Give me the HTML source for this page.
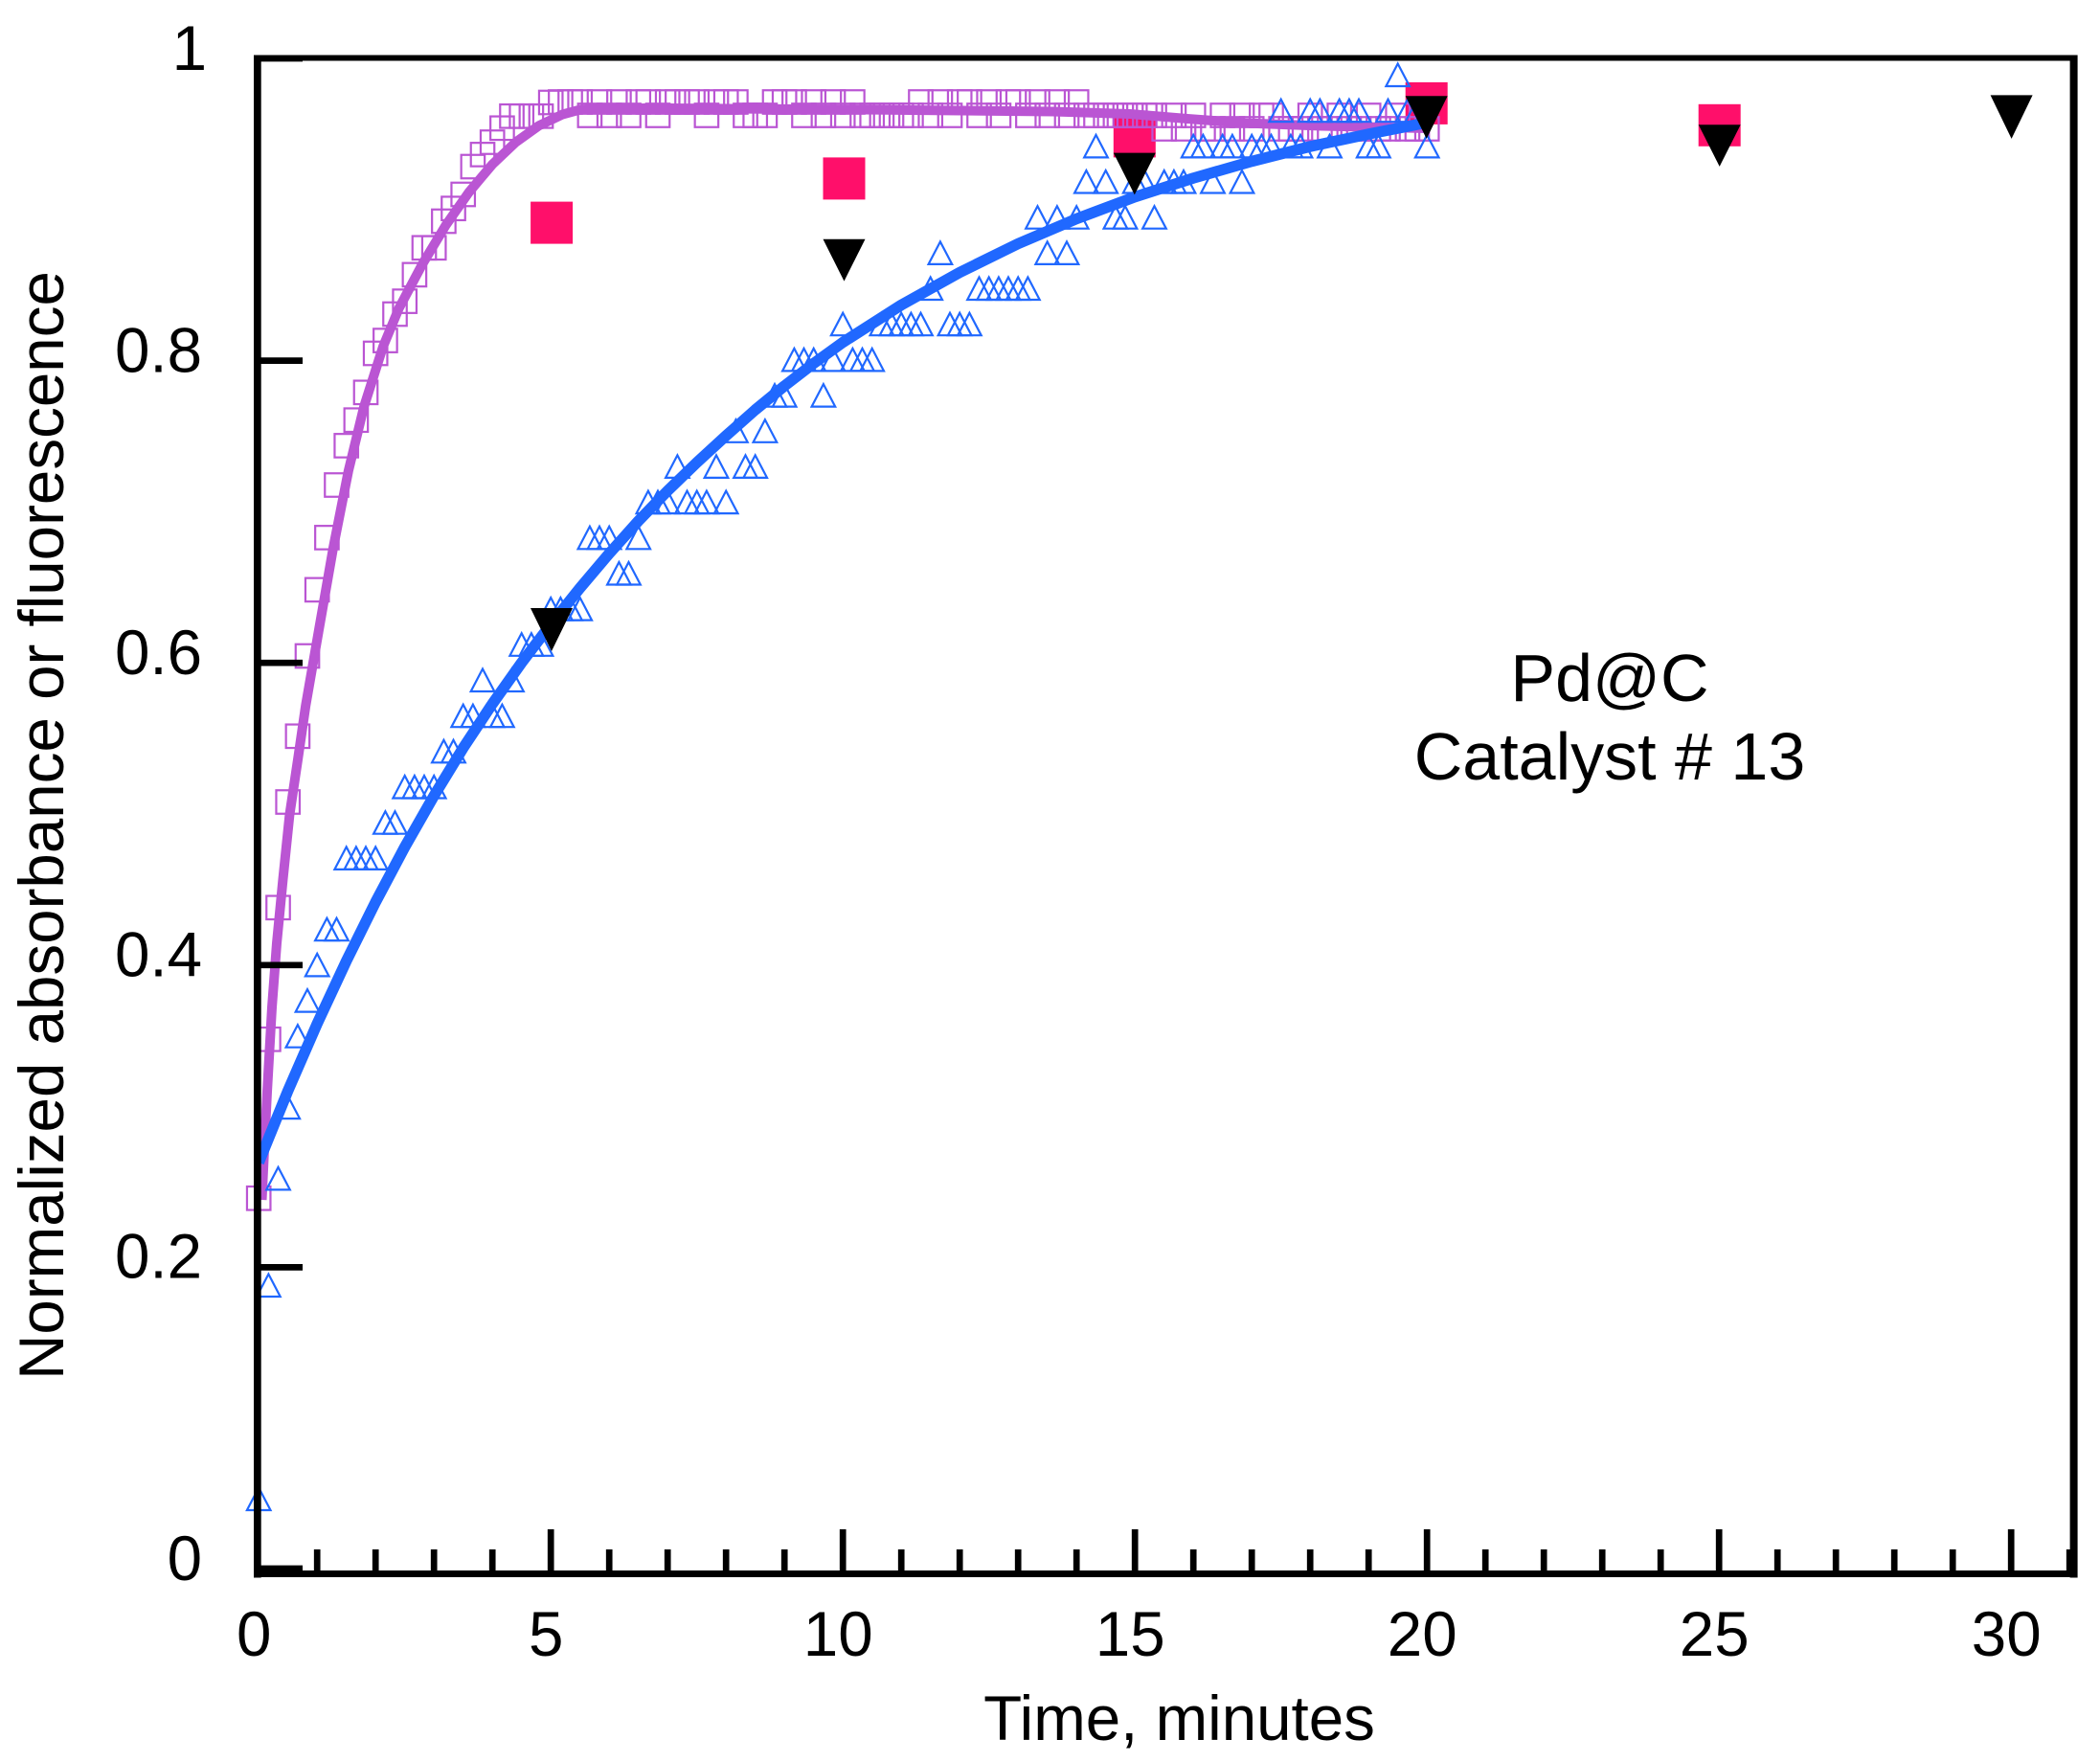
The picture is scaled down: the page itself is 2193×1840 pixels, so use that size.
<!DOCTYPE html>
<html><head><meta charset="utf-8"><style>
html,body{margin:0;padding:0;background:#fff;}
svg{display:block;}
text{font-family:"Liberation Sans",Arial,sans-serif;fill:#000;}
</style></head><body>
<svg width="2193" height="1840" viewBox="0 0 2193 1840" xmlns="http://www.w3.org/2000/svg">
<defs>
<rect id="s" x="-12.25" y="-12.25" width="24.5" height="24.5"/>
<polygon id="t" points="0,-11.5 12.3,12 -12.3,12"/>
</defs>
<rect width="2193" height="1840" fill="#fff"/>

<!-- pink filled squares -->
<g fill="#FF0F6A">
<rect x="554.1" y="210.6" width="44" height="44"/>
<rect x="859.5" y="164.4" width="44" height="44"/>
<rect x="1162.8" y="120.4" width="44" height="44"/>
<rect x="1467.7" y="85.9" width="44" height="44"/>
<rect x="1773.7" y="108.8" width="44" height="44"/>
</g>

<!-- lavender open squares -->
<g fill="none" stroke="#BA55D3" stroke-width="2.2">
<use href="#s" x="270.2" y="1251.3"/><use href="#s" x="280.4" y="1085.3"/><use href="#s" x="290.5" y="947.8"/><use href="#s" x="300.7" y="837.5"/><use href="#s" x="310.9" y="768.8"/><use href="#s" x="321.0" y="685"/><use href="#s" x="331.2" y="615.9"/><use href="#s" x="341.4" y="561.4"/><use href="#s" x="351.5" y="506.5"/><use href="#s" x="361.7" y="465.4"/><use href="#s" x="371.9" y="438.7"/><use href="#s" x="382.0" y="409.8"/><use href="#s" x="392.2" y="369"/><use href="#s" x="402.4" y="355.6"/><use href="#s" x="412.5" y="328"/><use href="#s" x="422.7" y="314.6"/><use href="#s" x="432.9" y="286.9"/><use href="#s" x="443.0" y="258.8"/><use href="#s" x="453.2" y="258.8"/><use href="#s" x="463.4" y="231"/><use href="#s" x="473.5" y="217.7"/><use href="#s" x="483.7" y="203"/><use href="#s" x="493.9" y="174"/><use href="#s" x="504.0" y="161.4"/><use href="#s" x="514.2" y="148.5"/><use href="#s" x="524.4" y="133.8"/><use href="#s" x="534.5" y="121.3"/><use href="#s" x="544.7" y="121.3"/><use href="#s" x="554.9" y="121.3"/><use href="#s" x="565.0" y="121.3"/><use href="#s" x="575.2" y="107"/>
<use href="#s" x="585.4" y="106.5"/><use href="#s" x="595.5" y="106.5"/><use href="#s" x="605.7" y="106.5"/><use href="#s" x="615.9" y="120.5"/><use href="#s" x="626.0" y="106.5"/><use href="#s" x="636.2" y="120.5"/><use href="#s" x="646.4" y="106.5"/><use href="#s" x="656.5" y="120.5"/><use href="#s" x="666.7" y="106.5"/><use href="#s" x="676.9" y="106.5"/><use href="#s" x="687.0" y="120.5"/><use href="#s" x="697.2" y="106.5"/><use href="#s" x="707.4" y="106.5"/><use href="#s" x="717.5" y="106.5"/><use href="#s" x="727.7" y="106.5"/><use href="#s" x="737.9" y="120.5"/><use href="#s" x="748.0" y="106.5"/><use href="#s" x="758.2" y="106.5"/><use href="#s" x="768.4" y="106.5"/><use href="#s" x="778.5" y="120.5"/><use href="#s" x="788.7" y="120.5"/><use href="#s" x="798.9" y="120.5"/><use href="#s" x="809.0" y="106.5"/><use href="#s" x="819.2" y="106.5"/><use href="#s" x="829.4" y="106.5"/><use href="#s" x="839.5" y="120.5"/><use href="#s" x="849.7" y="106.5"/><use href="#s" x="859.9" y="120.5"/><use href="#s" x="870.0" y="106.5"/><use href="#s" x="880.2" y="120.5"/><use href="#s" x="890.4" y="106.5"/>
<use href="#s" x="900.5" y="120.5"/><use href="#s" x="910.7" y="120.5"/><use href="#s" x="920.9" y="120.5"/><use href="#s" x="931.0" y="120.5"/><use href="#s" x="941.2" y="120.5"/><use href="#s" x="951.4" y="120.5"/><use href="#s" x="961.5" y="106.5"/><use href="#s" x="971.7" y="120.5"/><use href="#s" x="981.9" y="106.5"/><use href="#s" x="992.0" y="120.5"/><use href="#s" x="1002.2" y="106.5"/><use href="#s" x="1012.4" y="106.5"/><use href="#s" x="1022.5" y="120.5"/><use href="#s" x="1032.7" y="106.5"/><use href="#s" x="1042.9" y="120.5"/><use href="#s" x="1053.0" y="106.5"/><use href="#s" x="1063.2" y="106.5"/><use href="#s" x="1073.4" y="120.5"/><use href="#s" x="1083.5" y="106.5"/><use href="#s" x="1093.7" y="120.5"/><use href="#s" x="1103.9" y="106.5"/><use href="#s" x="1114.0" y="120.5"/><use href="#s" x="1124.2" y="106.5"/>
<use href="#s" x="1134.4" y="120.5"/><use href="#s" x="1144.5" y="120.5"/><use href="#s" x="1154.7" y="120.5"/><use href="#s" x="1164.9" y="120.5"/><use href="#s" x="1175.0" y="120.5"/><use href="#s" x="1185.2" y="120.5"/><use href="#s" x="1195.4" y="120.5"/><use href="#s" x="1205.5" y="120.5"/><use href="#s" x="1215.7" y="134.5"/><use href="#s" x="1225.9" y="120.5"/><use href="#s" x="1236.0" y="134.5"/><use href="#s" x="1246.2" y="120.5"/><use href="#s" x="1256.4" y="134.5"/><use href="#s" x="1266.5" y="134.5"/><use href="#s" x="1276.7" y="120.5"/><use href="#s" x="1286.9" y="134.5"/><use href="#s" x="1297.0" y="120.5"/><use href="#s" x="1307.2" y="134.5"/><use href="#s" x="1317.4" y="120.5"/><use href="#s" x="1327.5" y="120.5"/><use href="#s" x="1337.7" y="134.5"/><use href="#s" x="1347.9" y="134.5"/><use href="#s" x="1358.0" y="134.5"/><use href="#s" x="1368.2" y="120.5"/><use href="#s" x="1378.4" y="134.5"/><use href="#s" x="1388.5" y="134.5"/><use href="#s" x="1398.7" y="120.5"/><use href="#s" x="1408.9" y="134.5"/><use href="#s" x="1419.0" y="134.5"/><use href="#s" x="1429.2" y="120.5"/><use href="#s" x="1439.4" y="134.5"/><use href="#s" x="1449.5" y="134.5"/><use href="#s" x="1459.7" y="120.5"/><use href="#s" x="1469.9" y="134.5"/><use href="#s" x="1480.0" y="134.5"/><use href="#s" x="1490.2" y="134.5"/>
</g>

<!-- lavender fit -->
<polyline fill="none" stroke="#BA55D3" stroke-width="10" stroke-linejoin="round" points="273.5,1253 276,1200 279,1140 284,1052 289,985 295.5,918 302.4,851 311.2,792 319.2,737 332.6,660 348,572 363.8,492 380,425 400,362 416.6,322 441,276 465.4,235.4 489.8,200.6 514.2,171.6 538.6,148.5 563,131.1 587.4,119.5 605.7,114.6 624,113 700,113 900,114.5 1100,116.5 1180,119 1240,124 1300,128.5 1380,131.5 1490,134"/>

<!-- blue open triangles -->
<g fill="none" stroke="#2068FF" stroke-width="2.2">
<use href="#t" x="270.2" y="1565"/><use href="#t" x="280.4" y="1342.0"/><use href="#t" x="290.5" y="1230.4"/><use href="#t" x="300.7" y="1156.1"/><use href="#t" x="310.9" y="1081.7"/><use href="#t" x="321.0" y="1044.6"/><use href="#t" x="331.2" y="1007.4"/><use href="#t" x="341.4" y="970.2"/><use href="#t" x="351.5" y="970.2"/><use href="#t" x="361.7" y="895.9"/><use href="#t" x="371.9" y="895.9"/><use href="#t" x="382.0" y="895.9"/><use href="#t" x="392.2" y="895.9"/><use href="#t" x="402.4" y="858.7"/><use href="#t" x="412.5" y="858.7"/><use href="#t" x="422.7" y="821.5"/><use href="#t" x="432.9" y="821.5"/><use href="#t" x="443.0" y="821.5"/><use href="#t" x="453.2" y="821.5"/><use href="#t" x="463.4" y="784.3"/><use href="#t" x="473.5" y="784.3"/><use href="#t" x="483.7" y="747.2"/><use href="#t" x="493.9" y="747.2"/><use href="#t" x="504.0" y="710.0"/><use href="#t" x="514.2" y="747.2"/><use href="#t" x="524.4" y="747.2"/><use href="#t" x="534.5" y="710.0"/><use href="#t" x="544.7" y="672.8"/><use href="#t" x="554.9" y="672.8"/><use href="#t" x="565.0" y="672.8"/><use href="#t" x="575.2" y="635.6"/><use href="#t" x="585.4" y="635.6"/><use href="#t" x="595.5" y="635.6"/><use href="#t" x="605.7" y="635.6"/>
<use href="#t" x="615.9" y="561.3"/><use href="#t" x="626.0" y="561.3"/><use href="#t" x="636.2" y="561.3"/><use href="#t" x="646.4" y="598.5"/><use href="#t" x="656.5" y="598.5"/><use href="#t" x="666.7" y="561.3"/><use href="#t" x="676.9" y="524.1"/><use href="#t" x="687.0" y="524.1"/><use href="#t" x="697.2" y="524.1"/><use href="#t" x="707.4" y="486.9"/><use href="#t" x="717.5" y="524.1"/><use href="#t" x="727.7" y="524.1"/><use href="#t" x="737.9" y="524.1"/><use href="#t" x="748.0" y="486.9"/><use href="#t" x="758.2" y="524.1"/><use href="#t" x="768.4" y="449.8"/><use href="#t" x="778.5" y="486.9"/><use href="#t" x="788.7" y="486.9"/><use href="#t" x="798.9" y="449.8"/><use href="#t" x="809.0" y="412.6"/><use href="#t" x="819.2" y="412.6"/><use href="#t" x="829.4" y="375.4"/><use href="#t" x="839.5" y="375.4"/><use href="#t" x="849.7" y="375.4"/><use href="#t" x="859.9" y="412.6"/><use href="#t" x="870.0" y="375.4"/><use href="#t" x="880.2" y="338.2"/><use href="#t" x="890.4" y="375.4"/><use href="#t" x="900.5" y="375.4"/><use href="#t" x="910.7" y="375.4"/>
<use href="#t" x="920.9" y="338.2"/><use href="#t" x="931.0" y="338.2"/><use href="#t" x="941.2" y="338.2"/><use href="#t" x="951.4" y="338.2"/><use href="#t" x="961.5" y="338.2"/><use href="#t" x="971.7" y="301.0"/><use href="#t" x="981.9" y="263.9"/><use href="#t" x="992.0" y="338.2"/><use href="#t" x="1002.2" y="338.2"/><use href="#t" x="1012.4" y="338.2"/><use href="#t" x="1022.5" y="301.0"/><use href="#t" x="1032.7" y="301.0"/><use href="#t" x="1042.9" y="301.0"/><use href="#t" x="1053.0" y="301.0"/><use href="#t" x="1063.2" y="301.0"/><use href="#t" x="1073.4" y="301.0"/><use href="#t" x="1083.5" y="226.7"/><use href="#t" x="1093.7" y="263.9"/><use href="#t" x="1103.9" y="226.7"/><use href="#t" x="1114.0" y="263.9"/><use href="#t" x="1124.2" y="226.7"/><use href="#t" x="1134.4" y="189.5"/><use href="#t" x="1144.5" y="152.4"/><use href="#t" x="1154.7" y="189.5"/><use href="#t" x="1164.9" y="226.7"/><use href="#t" x="1175.0" y="226.7"/><use href="#t" x="1185.2" y="189.5"/><use href="#t" x="1195.4" y="189.5"/><use href="#t" x="1205.5" y="226.7"/>
<use href="#t" x="1215.7" y="189.5"/><use href="#t" x="1225.9" y="189.5"/><use href="#t" x="1236.0" y="189.5"/><use href="#t" x="1246.2" y="152.4"/><use href="#t" x="1256.4" y="152.4"/><use href="#t" x="1266.5" y="189.5"/><use href="#t" x="1276.7" y="152.4"/><use href="#t" x="1286.9" y="152.4"/><use href="#t" x="1297.0" y="189.5"/><use href="#t" x="1307.2" y="152.4"/><use href="#t" x="1317.4" y="152.4"/><use href="#t" x="1327.5" y="152.4"/><use href="#t" x="1337.7" y="115.2"/><use href="#t" x="1347.9" y="152.4"/><use href="#t" x="1358.0" y="152.4"/><use href="#t" x="1368.2" y="115.2"/><use href="#t" x="1378.4" y="115.2"/><use href="#t" x="1388.5" y="152.4"/><use href="#t" x="1398.7" y="115.2"/><use href="#t" x="1408.9" y="115.2"/><use href="#t" x="1419.0" y="115.2"/><use href="#t" x="1429.2" y="152.4"/><use href="#t" x="1439.4" y="152.4"/><use href="#t" x="1449.5" y="115.2"/><use href="#t" x="1459.7" y="78.0"/><use href="#t" x="1469.9" y="115.2"/><use href="#t" x="1480.0" y="115.2"/><use href="#t" x="1490.2" y="152.4"/>
</g>

<!-- blue fit -->
<polyline fill="none" stroke="#2068FF" stroke-width="11.5" stroke-linejoin="round" points="270.2,1214 300.7,1139 331.2,1069 361.7,1003.5 392.2,942 422.7,884.5 453.2,831 483.7,781 514.2,735 544.7,692 575.2,652 605.7,614 636.2,578 666.7,544 697.2,512.5 727.7,483 758.2,455 788.7,428 819.2,403 849.7,379.5 880.2,357.5 941.2,318.5 1002.2,284.5 1063.2,254.5 1124.2,228.5 1185.2,205.6 1246.2,186 1307.2,168.5 1368.2,153 1429.2,140 1490.2,128"/>

<!-- black inverted triangles -->
<g fill="#000">
<polygon points="554,635 598,635 576,680"/>
<polygon points="859.5,249.8 903.5,249.8 881.5,293.6"/>
<polygon points="1162.8,159.6 1206.8,159.6 1184.8,203.4"/>
<polygon points="1467.7,100.3 1511.7,100.3 1489.7,144.9"/>
<polygon points="1773.7,130.2 1817.7,130.2 1795.7,173.9"/>
<polygon points="2078.6,99.4 2122.6,99.4 2100.6,144.9"/>
</g>

<!-- frame -->
<g fill="#000">
<rect x="265" y="57.5" width="7.7" height="1590"/>
<rect x="265" y="57.5" width="1904.5" height="6"/>
<rect x="2161.6" y="57.5" width="8" height="1590"/>
<rect x="265" y="1640" width="1904.5" height="7"/>
</g>

<!-- y ticks -->
<g stroke="#000" stroke-width="6.7">
<line x1="272" y1="61" x2="316" y2="61"/>
<line x1="272" y1="376.6" x2="316" y2="376.6"/>
<line x1="272" y1="692.2" x2="316" y2="692.2"/>
<line x1="272" y1="1007.8" x2="316" y2="1007.8"/>
<line x1="272" y1="1323.4" x2="316" y2="1323.4"/>
<line x1="272" y1="1638" x2="316" y2="1638"/>
</g>

<!-- x ticks -->
<g stroke="#000" stroke-width="6.7">
<line x1="331.2" y1="1618" x2="331.2" y2="1641"/>
<line x1="392.2" y1="1618" x2="392.2" y2="1641"/>
<line x1="453.2" y1="1618" x2="453.2" y2="1641"/>
<line x1="514.2" y1="1618" x2="514.2" y2="1641"/>
<line x1="575.2" y1="1597" x2="575.2" y2="1641"/>
<line x1="636.2" y1="1618" x2="636.2" y2="1641"/>
<line x1="697.2" y1="1618" x2="697.2" y2="1641"/>
<line x1="758.2" y1="1618" x2="758.2" y2="1641"/>
<line x1="819.2" y1="1618" x2="819.2" y2="1641"/>
<line x1="880.2" y1="1597" x2="880.2" y2="1641"/>
<line x1="941.2" y1="1618" x2="941.2" y2="1641"/>
<line x1="1002.2" y1="1618" x2="1002.2" y2="1641"/>
<line x1="1063.2" y1="1618" x2="1063.2" y2="1641"/>
<line x1="1124.2" y1="1618" x2="1124.2" y2="1641"/>
<line x1="1185.2" y1="1597" x2="1185.2" y2="1641"/>
<line x1="1246.2" y1="1618" x2="1246.2" y2="1641"/>
<line x1="1307.2" y1="1618" x2="1307.2" y2="1641"/>
<line x1="1368.2" y1="1618" x2="1368.2" y2="1641"/>
<line x1="1429.2" y1="1618" x2="1429.2" y2="1641"/>
<line x1="1490.2" y1="1597" x2="1490.2" y2="1641"/>
<line x1="1551.2" y1="1618" x2="1551.2" y2="1641"/>
<line x1="1612.2" y1="1618" x2="1612.2" y2="1641"/>
<line x1="1673.2" y1="1618" x2="1673.2" y2="1641"/>
<line x1="1734.2" y1="1618" x2="1734.2" y2="1641"/>
<line x1="1795.2" y1="1597" x2="1795.2" y2="1641"/>
<line x1="1856.2" y1="1618" x2="1856.2" y2="1641"/>
<line x1="1917.2" y1="1618" x2="1917.2" y2="1641"/>
<line x1="1978.2" y1="1618" x2="1978.2" y2="1641"/>
<line x1="2039.2" y1="1618" x2="2039.2" y2="1641"/>
<line x1="2100.2" y1="1597" x2="2100.2" y2="1641"/>
<line x1="2161.2" y1="1618" x2="2161.2" y2="1641"/>
</g>

<!-- tick labels -->
<g font-size="65.5" text-anchor="middle">
<text x="265.2" y="1729">0</text>
<text x="570.2" y="1729">5</text>
<text x="875.2" y="1729">10</text>
<text x="1180.2" y="1729">15</text>
<text x="1485.2" y="1729">20</text>
<text x="1790.2" y="1729">25</text>
<text x="2095.2" y="1729">30</text>
</g>
<g font-size="65.5" text-anchor="end">
<text x="216" y="73">1</text>
<text x="211" y="388.5">0.8</text>
<text x="211" y="704">0.6</text>
<text x="211" y="1019.3">0.4</text>
<text x="211" y="1334.6">0.2</text>
<text x="211" y="1650">0</text>
</g>

<!-- axis titles -->
<text x="1231.5" y="1817" font-size="65.5" text-anchor="middle">Time, minutes</text>
<text transform="translate(66,862) rotate(-90)" x="0" y="0" font-size="65.5" text-anchor="middle">Normalized absorbance or fluorescence</text>

<!-- annotation -->
<g font-size="70" text-anchor="middle">
<text x="1681" y="732">Pd@C</text>
<text x="1681" y="814">Catalyst # 13</text>
</g>
</svg>
</body></html>
